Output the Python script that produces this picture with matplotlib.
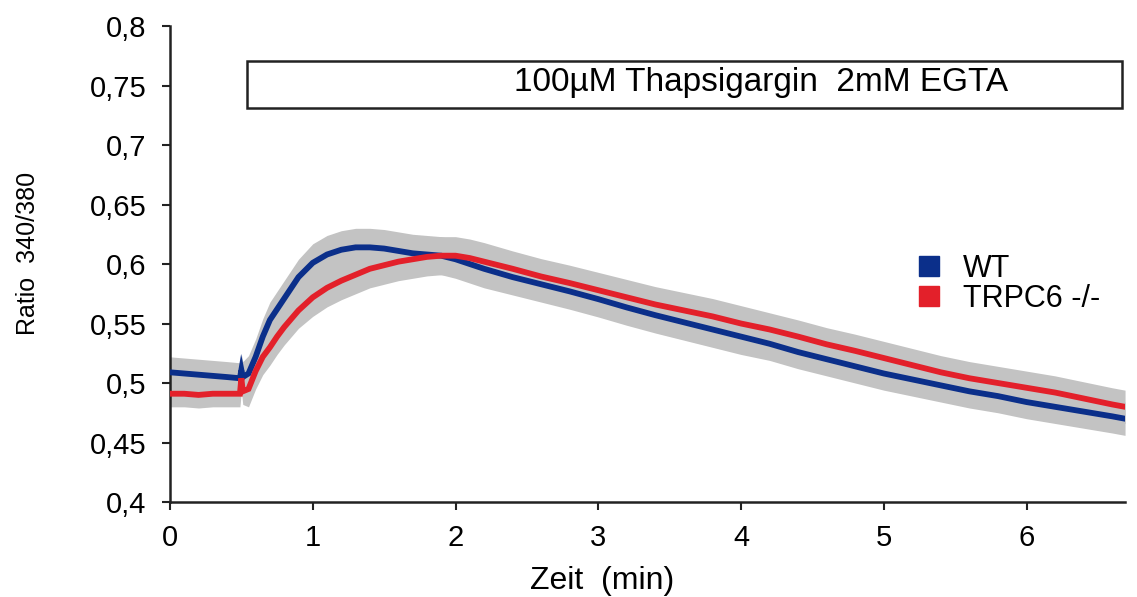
#!/usr/bin/env python3
# -*- coding: utf-8 -*-
"""
Fura-2 ratio traces, WT vs TRPC6 -/-, thapsigargin in Ca-free (EGTA) buffer
"""

import matplotlib
matplotlib.use('Agg')
import matplotlib.pyplot as plt
from matplotlib.lines import Line2D
from matplotlib.patches import Rectangle
import numpy as np

plt.rcParams['font.family'] = ['Liberation Sans', 'DejaVu Sans']

# time points (min)
time_min = [0, 0.1, 0.2, 0.3, 0.4, 0.49, 0.50, 0.51, 0.55, 0.6, 0.65, 0.7, 0.75,
            0.8, 0.9, 1.0, 1.1, 1.2, 1.3, 1.4, 1.5, 1.6, 1.7, 1.8, 1.9, 2.0,
            2.1, 2.2, 2.4, 2.6, 2.8, 3.0, 3.2, 3.4, 3.6, 3.8, 4.0, 4.2, 4.4,
            4.6, 4.8, 5.0, 5.2, 5.4, 5.6, 5.8, 6.0, 6.2, 6.4, 6.6, 6.69]

# mean ratio 340/380
wt_ratio = [0.509, 0.508, 0.507, 0.506, 0.505, 0.504, 0.511, 0.505, 0.508, 0.522,
            0.539, 0.553, 0.562, 0.571, 0.589, 0.601, 0.608, 0.612, 0.614, 0.614,
            0.613, 0.611, 0.609, 0.608, 0.607, 0.604, 0.600, 0.596, 0.589, 0.583,
            0.577, 0.5705, 0.5635, 0.557, 0.551, 0.545, 0.539, 0.533, 0.526, 0.520,
            0.514, 0.508, 0.503, 0.498, 0.493, 0.489, 0.484, 0.480, 0.476, 0.472,
            0.470]
ko_ratio = [0.491, 0.491, 0.490, 0.491, 0.491, 0.491, 0.504, 0.493, 0.495, 0.510,
            0.522, 0.530, 0.539, 0.547, 0.561, 0.572, 0.580, 0.586, 0.591, 0.596,
            0.599, 0.602, 0.604, 0.606, 0.607, 0.607, 0.605, 0.602, 0.596, 0.5895,
            0.584, 0.578, 0.572, 0.566, 0.561, 0.556, 0.550, 0.545, 0.539, 0.5325,
            0.527, 0.521, 0.515, 0.509, 0.504, 0.500, 0.496, 0.492, 0.487, 0.482,
            0.480]

# SEM (grey bands)
wt_sem = [0.013] * 8 + [0.015] * 7 + [0.016] * 13 + [0.015] * 9 + [0.014] * 14
ko_sem = [0.011] * 8 + [0.015] * 7 + [0.016] * 13 + [0.015] * 9 + [0.014] * 14

series_names = ['WT', 'TRPC6 -/-']
series_colors = ['#0b2f8a', '#e3202a']
band_color = '#c3c3c3'

y_ticks = [0.4, 0.45, 0.5, 0.55, 0.6, 0.65, 0.7, 0.75, 0.8]
y_ticklabels = ['0,4', '0,45', '0,5', '0,55', '0,6', '0,65', '0,7', '0,75', '0,8']
x_ticks = [0, 1, 2, 3, 4, 5, 6]

treatment_label = '100\u00b5M Thapsigargin  2mM EGTA'
treatment_start = 0.54
treatment_end = 6.67


def main():
    t = np.array(time_min)
    fig = plt.figure(figsize=(11.37, 5.97), dpi=100)
    ax = fig.add_axes([0.1495, 0.1591, 0.8400, 0.7973])

    # SEM bands first, then means on top
    for mean, sem in ((wt_ratio, wt_sem), (ko_ratio, ko_sem)):
        m = np.array(mean)
        s = np.array(sem)
        ax.fill_between(t, m - s, m + s, color=band_color, lw=0, zorder=1)
    for mean, col in zip((wt_ratio, ko_ratio), series_colors):
        ax.plot(t, mean, color=col, lw=4.2, solid_joinstyle='miter', zorder=3)

    # treatment bar
    ax.add_patch(Rectangle((treatment_start, 0.731), treatment_end - treatment_start,
                           0.0395, facecolor='white', edgecolor='#222222', lw=1.8,
                           zorder=4))
    ax.text(4.14, 0.7525, treatment_label, ha='center', va='center',
            fontsize=24, zorder=5)

    ax.set_xlim(0, 6.69)
    ax.set_ylim(0.4, 0.8)
    ax.set_yticks(y_ticks)
    ax.set_yticklabels(y_ticklabels)
    ax.set_xticks(x_ticks)
    ax.tick_params(axis='both', labelsize=21, length=6, width=1.5,
                   direction='out', color='#222222')
    ax.tick_params(axis='y', pad=11)
    ax.tick_params(axis='x', pad=10)
    for side in ('top', 'right'):
        ax.spines[side].set_visible(False)
    for side in ('left', 'bottom'):
        ax.spines[side].set_linewidth(1.8)
        ax.spines[side].set_color('#222222')

    ax.set_xlabel('Zeit  (min)', fontsize=23)
    ax.xaxis.set_label_coords((602 - 170) / 955, -0.135)
    fig.text(0.025, 0.575, 'Ratio  340/380', rotation=90, ha='center',
             va='center', fontsize=18)

    handles = [Line2D([], [], ls='', marker='s', markersize=15, color=c)
               for c in series_colors]
    ax.legend(handles, series_names, loc='upper left',
              bbox_to_anchor=(914 / 1137, 1 - 254 / 597),
              bbox_transform=fig.transFigure, frameon=False, fontsize=22,
              handlelength=1.0, handletextpad=0.6, labelspacing=0.0,
              borderpad=0, borderaxespad=0)

    fig.savefig('out.png', dpi=100)


if __name__ == "__main__":
    main()
